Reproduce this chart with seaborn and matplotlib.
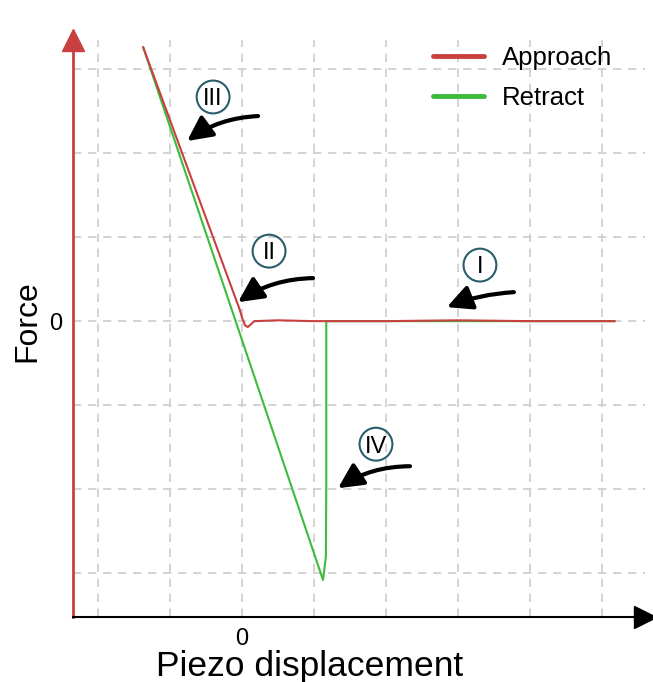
import matplotlib
matplotlib.use("Agg")
import matplotlib.pyplot as plt
import seaborn as sns
import pandas as pd

# curve data (x in grid units of piezo displacement, y in grid units of force)
approach_x = [-1.375, -0.03, 0.0, 0.04, 0.08, 0.12, 0.17, 0.5, 1.0, 2.0, 3.0, 4.0, 5.18]
approach_y = [3.26, 0.13, 0.04, -0.05, -0.07, -0.04, 0.0, 0.01, 0.0, 0.0, 0.01, 0.0, 0.0]
retract_x = [-1.375, 1.125, 1.165, 1.17, 1.17, 2.0, 3.0, 4.0, 5.18]
retract_y = [3.26, -3.08, -2.8, -2.0, 0.0, 0.0, 0.0, 0.0, 0.0]

x_ticks = [-2, -1, 0, 1, 2, 3, 4, 5]
x_tick_labels = ["", "", "0", "", "", "", "", ""]
y_ticks = [-3, -2, -1, 0, 1, 2, 3]
y_tick_labels = ["", "", "", "0", "", "", ""]

# stage labels: numeral, circle position, arrow tail, arrow tip, arrow bend
stage_names = ["I", "II", "III", "IV"]
stage_circle = [(3.306, 0.667), (0.375, 0.833), (-0.403, 2.667), (1.861, -1.464)]
stage_tail = [(3.778, 0.345), (0.986, 0.512), (0.222, 2.440), (2.333, -1.726)]
stage_tip = [(2.847, 0.167), (-0.056, 0.226), (-0.764, 2.143), (1.333, -1.988)]
stage_bend = [0.08, 0.15, 0.15, 0.15]

red = "#c8403f"
green = "#3dbb3d"

sns.set_style("white", {"text.color": "black", "axes.labelcolor": "black",
                        "xtick.color": "black", "ytick.color": "black"})
plt.rcParams["font.family"] = ["Liberation Sans", "DejaVu Sans"]

approach = pd.DataFrame({"x": approach_x, "y": approach_y})
retract = pd.DataFrame({"x": retract_x, "y": retract_y})

fig = plt.figure(figsize=(6.53, 6.82), dpi=100)
ax = fig.add_axes([73 / 653, 65 / 682, 572 / 653, 577 / 682])

sns.lineplot(data=retract, x="x", y="y", sort=False, estimator=None,
             color=green, lw=1.5, label="Retract", ax=ax)
sns.lineplot(data=approach, x="x", y="y", sort=False, estimator=None,
             color=red, lw=1.5, label="Approach", ax=ax)

ax.set_xlim(-2.35, 5.60)
ax.set_ylim(-3.52, 3.345)
ax.set_xticks(x_ticks)
ax.set_xticklabels(x_tick_labels, fontsize=17)
ax.set_yticks(y_ticks)
ax.set_yticklabels(y_tick_labels, fontsize=17)
ax.grid(True, color="#cccccc", linestyle=(0, (5, 4)), lw=1.2)

for s in ["top", "right"]:
    ax.spines[s].set_visible(False)
ax.spines["left"].set_color(red)
ax.spines["left"].set_linewidth(2)
ax.spines["bottom"].set_color("black")
ax.spines["bottom"].set_linewidth(1.5)
ax.tick_params(axis="y", direction="in", length=5, width=1.5, color=red,
               labelcolor="black", pad=8)
ax.tick_params(axis="x", direction="in", length=5, width=1.2, color="black",
               labelcolor="black", pad=8)

# arrow heads on the axes
ax.plot([0], [1.0], marker="^", ms=16, color=red, transform=ax.transAxes, clip_on=False)
ax.plot([1.0], [0], marker=">", ms=16, color="black", transform=ax.transAxes, clip_on=False)

ax.set_xlabel("Piezo displacement", fontsize=25.5, color="black")
ax.set_ylabel("Force", fontsize=23, color="black")
ax.xaxis.set_label_coords(0.414, -0.058)
ax.yaxis.set_label_coords(-0.054, 0.513)

# stage markers
for name, c, tail, tip, bend in zip(stage_names, stage_circle, stage_tail, stage_tip, stage_bend):
    ax.scatter([c[0]], [c[1]], s=560, facecolors="none", edgecolors="#2b5d6b", lw=1.5, zorder=5)
    ax.annotate(name, xy=c, xytext=(0, -6), textcoords="offset points",
                fontsize=17, ha="center", va="baseline", color="black", zorder=6)
    ax.annotate("", xy=tip, xytext=tail,
                arrowprops=dict(arrowstyle="-|>,head_length=1.0,head_width=0.5",
                                connectionstyle=f"arc3,rad={bend}", lw=3, color="black",
                                mutation_scale=15, shrinkA=0, shrinkB=0))

handles, labels = ax.get_legend_handles_labels()
leg = ax.legend(handles[::-1], labels[::-1], loc="upper right", frameon=False,
                fontsize=18.5, handlelength=2.0, handletextpad=0.7,
                bbox_to_anchor=(0.983, 1.03), labelspacing=0.62)
for line in leg.get_lines():
    line.set_linewidth(3.5)

fig.savefig("out.png", dpi=100)
